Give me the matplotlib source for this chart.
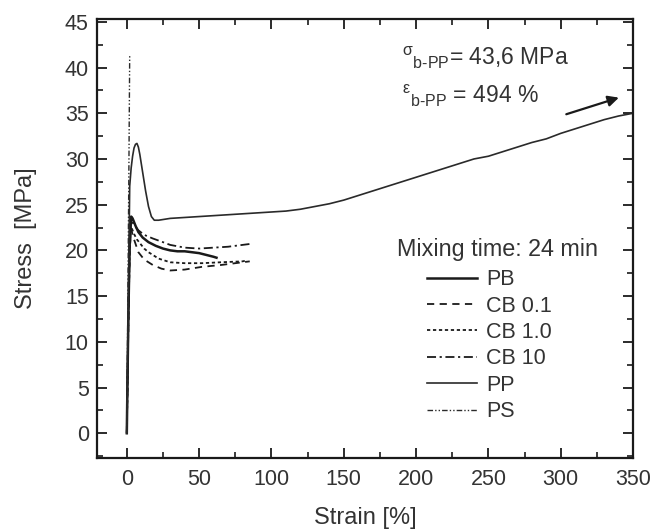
import matplotlib
matplotlib.use('Agg')
import matplotlib.pyplot as plt
from matplotlib.ticker import MultipleLocator

plt.rcParams['font.family'] = ['Liberation Sans', 'DejaVu Sans']
plt.rcParams['mathtext.fontset'] = 'custom'
plt.rcParams['mathtext.rm'] = 'Liberation Sans'
plt.rcParams['mathtext.it'] = 'Liberation Sans'

txt = '#333333'
ink = '#1a1a1a'

# stress-strain curves
pb_strain = [0, 1, 2, 3, 4, 6, 8, 11, 15, 20, 25, 30, 35, 40, 45, 50, 55, 60, 62]
pb_stress = [0, 12, 21, 23.7, 23.5, 22.7, 22.0, 21.4, 20.9, 20.5, 20.2, 20.0, 19.9, 19.9, 19.8, 19.7, 19.5, 19.3, 19.2]

cb01_strain = [0, 1, 2, 3, 5, 8, 12, 18, 24, 30, 40, 52, 65, 80, 85]
cb01_stress = [0, 11, 20, 22.3, 21.2, 19.8, 19.0, 18.4, 18.0, 17.8, 17.9, 18.2, 18.4, 18.7, 18.8]

cb1_strain = [0, 1, 2, 3, 5, 7, 9, 12, 15, 18, 22, 26, 30, 40, 52, 65, 80, 83]
cb1_stress = [0, 11, 20, 22.6, 21.8, 21.2, 20.8, 20.2, 19.8, 19.5, 19.1, 18.9, 18.7, 18.6, 18.6, 18.7, 18.8, 18.9]

cb10_strain = [0, 1, 2, 3, 5, 8, 12, 18, 25, 30, 40, 50, 60, 70, 80, 85]
cb10_stress = [0, 12, 21, 23.3, 22.8, 22.2, 21.7, 21.3, 20.9, 20.6, 20.3, 20.2, 20.3, 20.4, 20.6, 20.7]

pp_strain = [0, 1, 2, 3, 4, 5, 6, 7, 8, 9, 11, 13, 15, 17, 19, 22, 30, 40, 50, 60, 70, 80, 90,
             100, 110, 120, 130, 140, 150, 160, 170, 180, 190, 200, 210, 220, 230, 240, 250,
             260, 270, 280, 290, 300, 310, 320, 330, 340, 350]
pp_stress = [0, 14, 27, 29, 30.3, 31.2, 31.6, 31.7, 31.3, 30.5, 28.5, 26.5, 24.8, 23.7, 23.3, 23.3,
             23.5, 23.6, 23.7, 23.8, 23.9, 24.0, 24.1, 24.2, 24.3, 24.5, 24.8, 25.1, 25.5, 26.0,
             26.5, 27.0, 27.5, 28.0, 28.5, 29.0, 29.5, 30.0, 30.3, 30.8, 31.3, 31.8, 32.2, 32.8,
             33.3, 33.8, 34.3, 34.7, 35.0]

ps_strain = [0, 0.7, 1.4, 2.0]
ps_stress = [0, 14, 28, 41.3]

fig = plt.figure(figsize=(6.52, 5.30), dpi=100)
ax = fig.add_axes([0.149, 0.136, 0.822, 0.828])

ax.plot(pb_strain, pb_stress, color=ink, lw=1.8, label='PB')
ax.plot(cb01_strain, cb01_stress, color=ink, lw=1.3, dashes=(4, 3), label='CB 0.1')
ax.plot(cb1_strain, cb1_stress, color=ink, lw=1.3, dashes=(1.8, 1.5), label='CB 1.0')
ax.plot(cb10_strain, cb10_stress, color=ink, lw=1.3, dashes=(5, 2, 1.2, 2), label='CB 10')
ax.plot(pp_strain, pp_stress, color='#2a2a2a', lw=1.2, label='PP')
ax.plot(ps_strain, ps_stress, color='#2a2a2a', lw=1.0, dashes=(4, 1.5, 1, 1.5, 1, 1.5), label='PS')

ax.set_xlim(-20.5, 350)
ax.set_ylim(-2.7, 45.3)
ax.xaxis.set_major_locator(MultipleLocator(50))
ax.xaxis.set_minor_locator(MultipleLocator(25))
ax.yaxis.set_major_locator(MultipleLocator(5))
ax.yaxis.set_minor_locator(MultipleLocator(2.5))
ax.tick_params(which='both', direction='in', top=True, right=True, color=ink,
               labelsize=15.5, labelcolor=txt, pad=6)
ax.tick_params(axis='x', pad=8)
ax.tick_params(which='major', length=7, width=1.3)
ax.tick_params(which='minor', length=4, width=1.2)
for s in ax.spines.values():
    s.set_linewidth(1.6)
    s.set_color(ink)

ax.set_xlabel('Strain [%]', fontsize=17, color=txt, labelpad=12)
ax.set_ylabel('Stress  [MPa]', fontsize=17, color=txt, labelpad=20)

ax.text(190, 40.3, r'$^{\sigma}$$_{\mathrm{b}\text{-}\mathrm{PP}}$= 43,6 MPa', fontsize=16.5, color=txt)
ax.text(190, 36.1, r'$^{\epsilon}$$_{\mathrm{b}\text{-}\mathrm{PP}}$ = 494 %', fontsize=16.5, color=txt)
ax.annotate('', xy=(342, 36.8), xytext=(302, 34.8),
            arrowprops=dict(arrowstyle='-|>', color=ink, lw=1.6, mutation_scale=16))

ax.text(187, 20.1, 'Mixing time: 24 min', fontsize=16.8, color=txt, va='center')
leg = ax.legend(loc='upper left', bbox_to_anchor=(0.616, 0.430), frameon=False,
                fontsize=15.5, handlelength=2.3, handletextpad=0.45, labelspacing=0.25,
                borderpad=0, borderaxespad=0)
for t in leg.get_texts():
    t.set_color(txt)

fig.savefig('out.png', dpi=100)
